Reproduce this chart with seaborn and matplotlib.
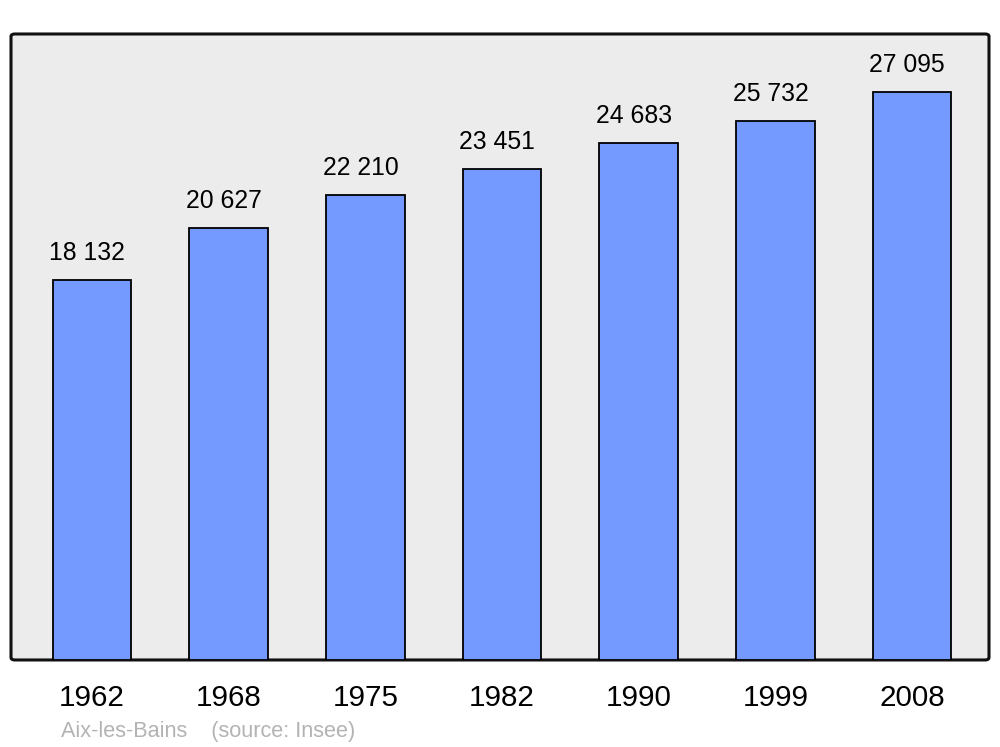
import matplotlib
matplotlib.use("Agg")
import matplotlib.pyplot as plt
from matplotlib.patches import FancyBboxPatch
import seaborn as sns
import pandas as pd

years = ["1962", "1968", "1975", "1982", "1990", "1999", "2008"]
population = [18132, 20627, 22210, 23451, 24683, 25732, 27095]
value_labels = ["18 132", "20 627", "22 210", "23 451", "24 683", "25 732", "27 095"]
caption = "Aix-les-Bains    (source: Insee)"

sns.set_theme(style="white")
plt.rcParams["font.family"] = ["Liberation Sans", "DejaVu Sans"]

df = pd.DataFrame({"year": years, "population": population})

fig = plt.figure(figsize=(10, 7.47), dpi=100)
ax = fig.add_axes([0.011, 0.1165, 0.978, 0.8380])
ax.set_facecolor("none")

frame = FancyBboxPatch((0, 0), 1, 1, boxstyle="round,pad=0,rounding_size=0.004",
                       transform=ax.transAxes, facecolor="#ececec", edgecolor="#111111",
                       linewidth=2.2, zorder=0, clip_on=False)
ax.add_patch(frame)

sns.barplot(data=df, x="year", y="population", color="#7499ff", saturation=1,
            edgecolor="black", linewidth=1.3, width=0.575, ax=ax, zorder=2)

for i, (v, lab) in enumerate(zip(population, value_labels)):
    ax.annotate(lab, (i, v), xytext=(-3.5, 14.3), textcoords="offset points",
                ha="center", va="baseline", fontsize=17.8, color="black", zorder=3)

ax.set_xlim(-0.593, 6.563)
ax.set_ylim(0, 29870)
ax.set_yticks([])
ax.set_xlabel("")
ax.set_ylabel("")
for s in ax.spines.values():
    s.set_visible(False)
ax.tick_params(axis="x", length=0, pad=17, labelsize=21.3, labelcolor="black")

fig.text(0.061, 1 - 732 / 747, caption, fontsize=15.6, color="#b3b3b3",
         ha="left", va="center")

fig.savefig("out.png", dpi=100, facecolor="white")
